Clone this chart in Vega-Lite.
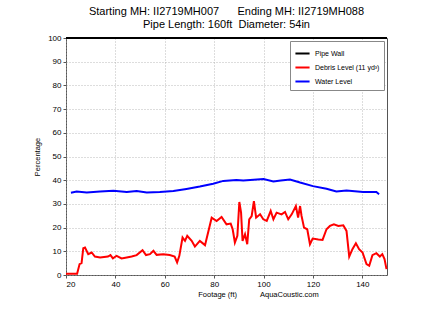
{
  "$schema": "https://vega.github.io/schema/vega-lite/v6.json",
  "autosize": {"type": "none"},
  "width": 321,
  "height": 237,
  "padding": {"left": 66, "top": 38, "right": 37, "bottom": 34},
  "background": "white",
  "config": {
    "font": "Liberation Sans",
    "view": {"stroke": "#555555", "strokeWidth": 1},
    "axis": {"labelFont": "Liberation Sans", "titleFont": "Liberation Sans", "labelColor": "black", "titleColor": "black", "labelFontSize": 8, "titleFontSize": 7.5, "titleFontWeight": "normal", "domain": false, "tickColor": "#555555", "tickSize": 3, "gridColor": "#aaaaaa", "gridDash": [1, 2], "gridWidth": 0.8}
  },
  "title": {
    "text": ["Starting MH: II2719MH007\u00a0\u00a0\u00a0\u00a0\u00a0\u00a0Ending MH: II2719MH088", "Pipe Length: 160ft\u00a0\u00a0Diameter: 54in"],
    "font": "Liberation Sans",
    "fontSize": 11,
    "fontWeight": "normal",
    "color": "black",
    "lineHeight": 13,
    "anchor": "middle",
    "offset": 4
  },
  "data": {
    "values": [
      {"s": "Pipe Wall", "ft": 20, "v": 100},
      {"s": "Pipe Wall", "ft": 150, "v": 100},

      {"s": "Water Level", "ft": 22, "v": 34.7},
      {"s": "Water Level", "ft": 24.3, "v": 35.2},
      {"s": "Water Level", "ft": 28.4, "v": 34.8},
      {"s": "Water Level", "ft": 33.8, "v": 35.2},
      {"s": "Water Level", "ft": 39.2, "v": 35.5},
      {"s": "Water Level", "ft": 44.6, "v": 35.0},
      {"s": "Water Level", "ft": 48.6, "v": 35.4},
      {"s": "Water Level", "ft": 52.7, "v": 34.8},
      {"s": "Water Level", "ft": 58, "v": 35.0},
      {"s": "Water Level", "ft": 63.5, "v": 35.4},
      {"s": "Water Level", "ft": 68.8, "v": 36.3},
      {"s": "Water Level", "ft": 74.2, "v": 37.3},
      {"s": "Water Level", "ft": 79.6, "v": 38.5},
      {"s": "Water Level", "ft": 83.7, "v": 39.7},
      {"s": "Water Level", "ft": 89, "v": 40.1},
      {"s": "Water Level", "ft": 91.8, "v": 39.9},
      {"s": "Water Level", "ft": 96, "v": 40.2},
      {"s": "Water Level", "ft": 100, "v": 40.5},
      {"s": "Water Level", "ft": 104, "v": 39.5},
      {"s": "Water Level", "ft": 107, "v": 39.9},
      {"s": "Water Level", "ft": 110.7, "v": 40.3},
      {"s": "Water Level", "ft": 114.8, "v": 39.0},
      {"s": "Water Level", "ft": 120, "v": 37.5},
      {"s": "Water Level", "ft": 125.5, "v": 36.4},
      {"s": "Water Level", "ft": 129.5, "v": 35.2},
      {"s": "Water Level", "ft": 133.6, "v": 35.7},
      {"s": "Water Level", "ft": 140.3, "v": 35.0},
      {"s": "Water Level", "ft": 145.7, "v": 35.0},
      {"s": "Water Level", "ft": 146.8, "v": 34.1},

      {"s": "Debris Level (11 yd³)", "ft": 20, "v": 0.5},
      {"s": "Debris Level (11 yd³)", "ft": 24.5, "v": 0.5},
      {"s": "Debris Level (11 yd³)", "ft": 25.5, "v": 4.6},
      {"s": "Debris Level (11 yd³)", "ft": 26.3, "v": 5.0},
      {"s": "Debris Level (11 yd³)", "ft": 27, "v": 11.3},
      {"s": "Debris Level (11 yd³)", "ft": 27.7, "v": 11.6},
      {"s": "Debris Level (11 yd³)", "ft": 29, "v": 8.8},
      {"s": "Debris Level (11 yd³)", "ft": 30.4, "v": 9.5},
      {"s": "Debris Level (11 yd³)", "ft": 31.7, "v": 7.8},
      {"s": "Debris Level (11 yd³)", "ft": 33.8, "v": 7.4},
      {"s": "Debris Level (11 yd³)", "ft": 37, "v": 7.8},
      {"s": "Debris Level (11 yd³)", "ft": 38, "v": 8.4},
      {"s": "Debris Level (11 yd³)", "ft": 39, "v": 7.0},
      {"s": "Debris Level (11 yd³)", "ft": 40.5, "v": 8.1},
      {"s": "Debris Level (11 yd³)", "ft": 42.5, "v": 7.0},
      {"s": "Debris Level (11 yd³)", "ft": 44.6, "v": 7.4},
      {"s": "Debris Level (11 yd³)", "ft": 46.6, "v": 7.8},
      {"s": "Debris Level (11 yd³)", "ft": 48.6, "v": 8.4},
      {"s": "Debris Level (11 yd³)", "ft": 51, "v": 10.5},
      {"s": "Debris Level (11 yd³)", "ft": 52.4, "v": 8.4},
      {"s": "Debris Level (11 yd³)", "ft": 54, "v": 8.8},
      {"s": "Debris Level (11 yd³)", "ft": 55.4, "v": 10.2},
      {"s": "Debris Level (11 yd³)", "ft": 56.7, "v": 8.5},
      {"s": "Debris Level (11 yd³)", "ft": 59.4, "v": 8.8},
      {"s": "Debris Level (11 yd³)", "ft": 62, "v": 8.4},
      {"s": "Debris Level (11 yd³)", "ft": 64, "v": 7.8},
      {"s": "Debris Level (11 yd³)", "ft": 65, "v": 5.3},
      {"s": "Debris Level (11 yd³)", "ft": 65.9, "v": 8.1},
      {"s": "Debris Level (11 yd³)", "ft": 67.2, "v": 15.8},
      {"s": "Debris Level (11 yd³)", "ft": 68.2, "v": 14.4},
      {"s": "Debris Level (11 yd³)", "ft": 69.1, "v": 16.5},
      {"s": "Debris Level (11 yd³)", "ft": 70.9, "v": 14.4},
      {"s": "Debris Level (11 yd³)", "ft": 72.2, "v": 12.0},
      {"s": "Debris Level (11 yd³)", "ft": 74.2, "v": 14.4},
      {"s": "Debris Level (11 yd³)", "ft": 76.3, "v": 12.6},
      {"s": "Debris Level (11 yd³)", "ft": 79, "v": 24.2},
      {"s": "Debris Level (11 yd³)", "ft": 81, "v": 22.8},
      {"s": "Debris Level (11 yd³)", "ft": 83, "v": 24.5},
      {"s": "Debris Level (11 yd³)", "ft": 85, "v": 21.4},
      {"s": "Debris Level (11 yd³)", "ft": 86.7, "v": 21.7},
      {"s": "Debris Level (11 yd³)", "ft": 87.5, "v": 19.3},
      {"s": "Debris Level (11 yd³)", "ft": 88.4, "v": 13.7},
      {"s": "Debris Level (11 yd³)", "ft": 89.4, "v": 16.5},
      {"s": "Debris Level (11 yd³)", "ft": 90.2, "v": 30.8},
      {"s": "Debris Level (11 yd³)", "ft": 90.9, "v": 26.3},
      {"s": "Debris Level (11 yd³)", "ft": 91.5, "v": 14.4},
      {"s": "Debris Level (11 yd³)", "ft": 92.5, "v": 17.2},
      {"s": "Debris Level (11 yd³)", "ft": 93.4, "v": 13.0},
      {"s": "Debris Level (11 yd³)", "ft": 94.2, "v": 23.5},
      {"s": "Debris Level (11 yd³)", "ft": 95.2, "v": 24.9},
      {"s": "Debris Level (11 yd³)", "ft": 96.1, "v": 31.2},
      {"s": "Debris Level (11 yd³)", "ft": 97, "v": 24.2},
      {"s": "Debris Level (11 yd³)", "ft": 98.6, "v": 25.6},
      {"s": "Debris Level (11 yd³)", "ft": 99.9, "v": 23.5},
      {"s": "Debris Level (11 yd³)", "ft": 101.3, "v": 22.8},
      {"s": "Debris Level (11 yd³)", "ft": 102.9, "v": 27.0},
      {"s": "Debris Level (11 yd³)", "ft": 104, "v": 23.5},
      {"s": "Debris Level (11 yd³)", "ft": 105.3, "v": 26.3},
      {"s": "Debris Level (11 yd³)", "ft": 107.3, "v": 25.6},
      {"s": "Debris Level (11 yd³)", "ft": 108.7, "v": 26.6},
      {"s": "Debris Level (11 yd³)", "ft": 110, "v": 23.5},
      {"s": "Debris Level (11 yd³)", "ft": 111.4, "v": 25.6},
      {"s": "Debris Level (11 yd³)", "ft": 113.1, "v": 29.1},
      {"s": "Debris Level (11 yd³)", "ft": 114, "v": 24.2},
      {"s": "Debris Level (11 yd³)", "ft": 114.8, "v": 29.1},
      {"s": "Debris Level (11 yd³)", "ft": 115.4, "v": 24.9},
      {"s": "Debris Level (11 yd³)", "ft": 116.4, "v": 20.0},
      {"s": "Debris Level (11 yd³)", "ft": 117.7, "v": 19.3},
      {"s": "Debris Level (11 yd³)", "ft": 118.8, "v": 13.0},
      {"s": "Debris Level (11 yd³)", "ft": 119.9, "v": 15.4},
      {"s": "Debris Level (11 yd³)", "ft": 122.2, "v": 15.0},
      {"s": "Debris Level (11 yd³)", "ft": 123.9, "v": 14.8},
      {"s": "Debris Level (11 yd³)", "ft": 125.5, "v": 19.3},
      {"s": "Debris Level (11 yd³)", "ft": 126.9, "v": 20.7},
      {"s": "Debris Level (11 yd³)", "ft": 128.5, "v": 21.4},
      {"s": "Debris Level (11 yd³)", "ft": 130.3, "v": 20.7},
      {"s": "Debris Level (11 yd³)", "ft": 132.3, "v": 21.0},
      {"s": "Debris Level (11 yd³)", "ft": 133.6, "v": 18.6},
      {"s": "Debris Level (11 yd³)", "ft": 134.7, "v": 7.8},
      {"s": "Debris Level (11 yd³)", "ft": 136, "v": 10.9},
      {"s": "Debris Level (11 yd³)", "ft": 137.4, "v": 13.4},
      {"s": "Debris Level (11 yd³)", "ft": 138.7, "v": 10.9},
      {"s": "Debris Level (11 yd³)", "ft": 140.1, "v": 9.5},
      {"s": "Debris Level (11 yd³)", "ft": 141.7, "v": 4.6},
      {"s": "Debris Level (11 yd³)", "ft": 142.8, "v": 3.9},
      {"s": "Debris Level (11 yd³)", "ft": 144.1, "v": 8.4},
      {"s": "Debris Level (11 yd³)", "ft": 145.7, "v": 9.2},
      {"s": "Debris Level (11 yd³)", "ft": 147.1, "v": 7.8},
      {"s": "Debris Level (11 yd³)", "ft": 148.1, "v": 8.8},
      {"s": "Debris Level (11 yd³)", "ft": 149, "v": 6.7},
      {"s": "Debris Level (11 yd³)", "ft": 149.8, "v": 2.5}
    ]
  },
  "mark": {"type": "line", "strokeWidth": 2, "clip": false},
  "encoding": {
    "x": {
      "field": "ft", "type": "quantitative",
      "scale": {"domain": [20, 150], "nice": false, "zero": false},
      "axis": {"values": [20, 40, 60, 80, 100, 120, 140], "title": "Footage (ft)\u00a0\u00a0\u00a0\u00a0\u00a0\u00a0\u00a0\u00a0\u00a0\u00a0\u00a0AquaCoustic.com", "titleX": 192, "titlePadding": 2, "labelPadding": 2}
    },
    "y": {
      "field": "v", "type": "quantitative",
      "scale": {"domain": [0, 100], "nice": false},
      "axis": {"values": [0, 10, 20, 30, 40, 50, 60, 70, 80, 90, 100], "title": "Percentage", "titlePadding": 6, "labelPadding": 2}
    },
    "color": {
      "field": "s", "type": "nominal",
      "scale": {"domain": ["Pipe Wall", "Debris Level (11 yd³)", "Water Level"], "range": ["#000000", "#ff0000", "#0000ff"]},
      "legend": {"title": null, "orient": "top-right", "offset": 3, "symbolType": "stroke", "symbolStrokeWidth": 2, "symbolSize": 200, "labelFontSize": 7, "labelFont": "Liberation Sans", "labelColor": "black", "rowPadding": 1, "padding": 4, "strokeColor": "#888888", "fillColor": "white", "labelLimit": 200}
    }
  }
}
